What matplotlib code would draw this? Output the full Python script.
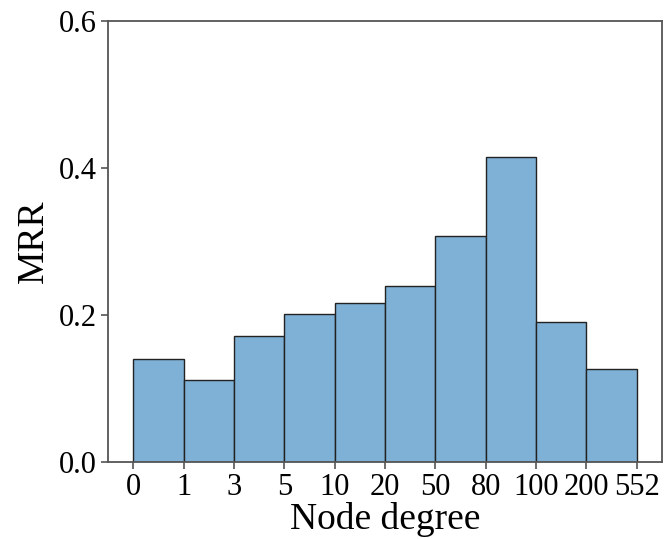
from matplotlib import pyplot as plt
import numpy as np

# degree bins and MRR per bin
bin_edges = ['0', '1', '3', '5', '10', '20', '50', '80', '100', '200', '552']
mrr = [0.140, 0.111, 0.172, 0.201, 0.216, 0.240, 0.308, 0.415, 0.191, 0.126]

plt.rcParams['font.family'] = ['Liberation Serif', 'DejaVu Serif']

fig = plt.figure(figsize=(6.64, 5.39), dpi=100)
ax = fig.add_axes([0.163, 0.143, 0.834, 0.818])

pos = np.arange(len(mrr))
ax.bar(pos, mrr, width=1.0, align='edge', color='#7fb0d5',
       edgecolor='#222222', linewidth=1.0)

ax.set_xlim(-0.5, len(mrr) + 0.5)
ax.set_ylim(0, 0.6)
ax.set_xticks(np.arange(len(bin_edges)))
ax.set_xticklabels(bin_edges)
ax.set_yticks([0.0, 0.2, 0.4, 0.6])
ax.set_yticklabels(['0.0', '0.2', '0.4', '0.6'])
ax.tick_params(labelsize=22, color='#555555', length=5, width=1.2, pad=3)

for s in ax.spines.values():
    s.set_color('#555555')
    s.set_linewidth(1.3)

ax.set_xlabel('Node degree', fontsize=27, labelpad=0)
ax.set_ylabel('MRR', fontsize=27, labelpad=6)

fig.savefig('out.png', dpi=100)
